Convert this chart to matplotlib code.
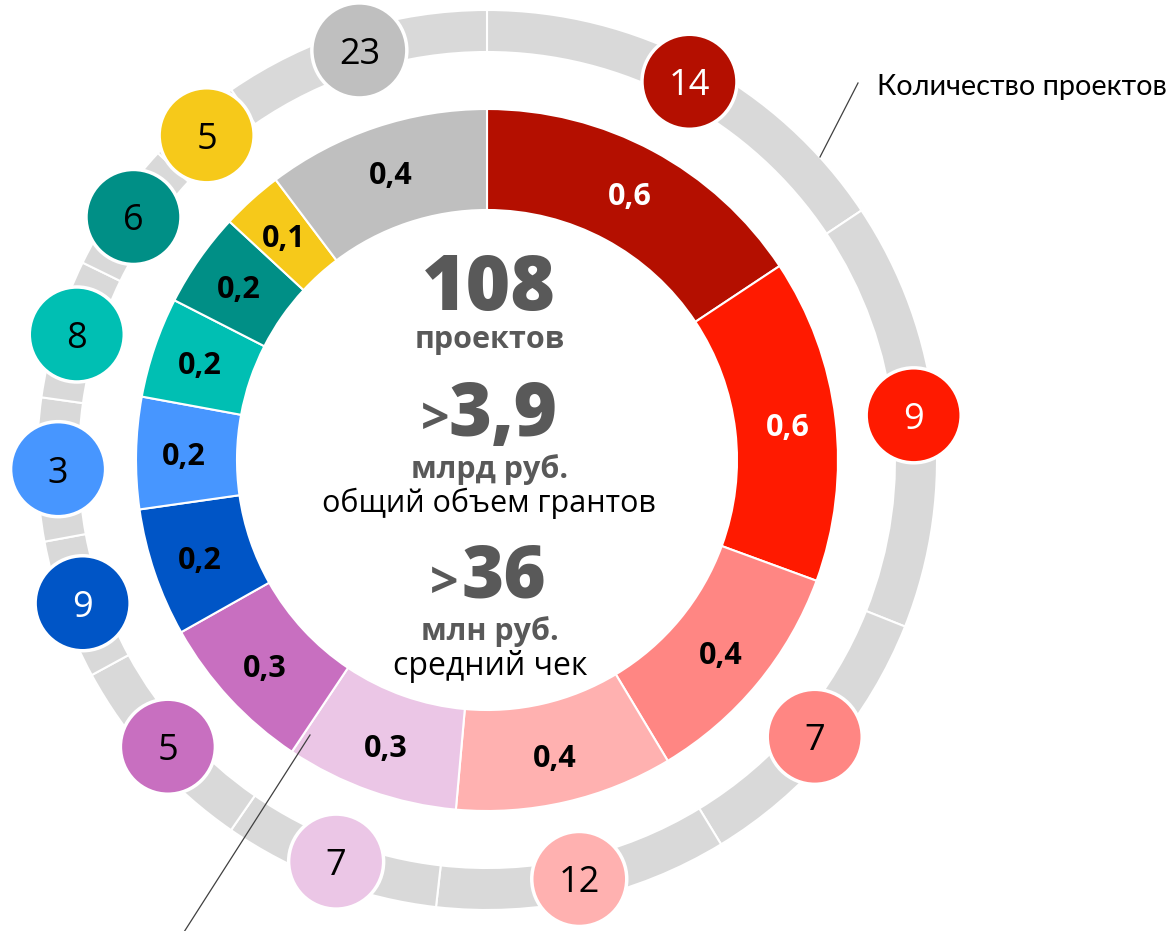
import numpy as np
import matplotlib.pyplot as plt
from matplotlib.patches import Circle

# grant volume by direction, bln rub (slice sizes)
grant_values = [0.61, 0.58, 0.42, 0.39, 0.31, 0.29, 0.23, 0.20, 0.18, 0.17, 0.11, 0.40]
grant_labels = ["0,6", "0,6", "0,4", "0,4", "0,3", "0,3", "0,2", "0,2", "0,2", "0,2", "0,1", "0,4"]
# outer ring is drawn a bit differently from the inner one
ring_values = [0.61, 0.60, 0.40, 0.41, 0.305, 0.29, 0.196, 0.20, 0.195, 0.184, 0.134, 0.375]
# number of projects per direction
project_counts = [14, 9, 7, 12, 7, 5, 9, 3, 8, 6, 5, 23]

colors = ["#B40F00", "#FF1A00", "#FF8683", "#FFB1B0", "#EBC6E6", "#C86FC0",
          "#0055C6", "#4796FF", "#00BFB3", "#008F86", "#F6C91A", "#BFBFBF"]
label_colors = ["white", "white"] + ["black"] * 10
count_colors = ["white", "white", "black", "black", "black", "black",
                "white", "black", "black", "black", "black", "black"]

W, H = 1171, 931
fig = plt.figure(figsize=(W / 100, H / 100), dpi=100)
ax = fig.add_axes([0, 0, 1, 1])

cx, cy = 487, H - 460
gray_txt = "#595959"

# inner ring - grants
inner, _ = ax.pie(grant_values, colors=colors, startangle=90, counterclock=False,
                  radius=351, center=(cx, cy),
                  wedgeprops=dict(width=101, edgecolor="white", linewidth=1.5))
# outer ring - projects
outer, _ = ax.pie(ring_values, colors=["#D9D9D9"] * len(ring_values), startangle=90,
                  counterclock=False, radius=450, center=(cx, cy),
                  wedgeprops=dict(width=42, edgecolor="white", linewidth=1.5))

ax.set_xlim(0, W)
ax.set_ylim(0, H)
ax.set_aspect("equal")
ax.axis("off")

for w, lab, tc in zip(inner, grant_labels, label_colors):
    a = np.deg2rad((w.theta1 + w.theta2) / 2)
    ax.text(cx + 303 * np.cos(a), cy + 303 * np.sin(a), lab, ha="center",
            va="center_baseline", fontsize=22, fontweight="bold", color=tc, family="Open Sans")

for w, n, c, tc in zip(outer, project_counts, colors, count_colors):
    a = np.deg2rad((w.theta1 + w.theta2) / 2)
    x, y = cx + 429 * np.cos(a), cy + 429 * np.sin(a)
    ax.add_patch(Circle((x, y), 47.5, facecolor=c, edgecolor="white", linewidth=2.5, zorder=3))
    ax.text(x, y, str(n), ha="center", va="center_baseline", fontsize=26,
            color=tc, family="Open Sans", zorder=4)

# center texts
ax.text(489, H - 310, "108", ha="center", va="baseline", fontsize=55,
        fontweight="heavy", color=gray_txt, family="Open Sans")
ax.text(490, H - 348, "проектов", ha="center", va="baseline", fontsize=22,
        fontweight="bold", color=gray_txt, family="Open Sans")
ax.text(503, H - 436, "3,9", ha="center", va="baseline", fontsize=53,
        fontweight="heavy", color=gray_txt, family="Open Sans")
ax.text(449, H - 421, ">", ha="right", va="center", fontsize=36,
        fontweight="bold", color=gray_txt, family="Open Sans")
ax.text(490, H - 478, "млрд руб.", ha="center", va="baseline", fontsize=22,
        fontweight="bold", color=gray_txt, family="Open Sans")
ax.text(489, H - 512, "общий объем грантов", ha="center", va="baseline", fontsize=22,
        color="black", family="Open Sans")
ax.text(504, H - 597, "36", ha="center", va="baseline", fontsize=52,
        fontweight="heavy", color=gray_txt, family="Open Sans")
ax.text(458, H - 585, ">", ha="right", va="center", fontsize=36,
        fontweight="bold", color=gray_txt, family="Open Sans")
ax.text(490, H - 640, "млн руб.", ha="center", va="baseline", fontsize=22,
        fontweight="bold", color=gray_txt, family="Open Sans")
ax.text(490, H - 675, "средний чек", ha="center", va="baseline", fontsize=23,
        color="black", family="Open Sans")

# callouts
ax.text(877, H - 95, "Количество проектов", ha="left", va="baseline", fontsize=20.8,
        color="black", family="Lato")
ax.plot([858, 820], [H - 83, H - 157], color="#404040", lw=0.9, zorder=5)
ax.plot([310, 184], [H - 735, H - 932], color="#404040", lw=0.9, zorder=5)

fig.savefig("out.png", dpi=100)
